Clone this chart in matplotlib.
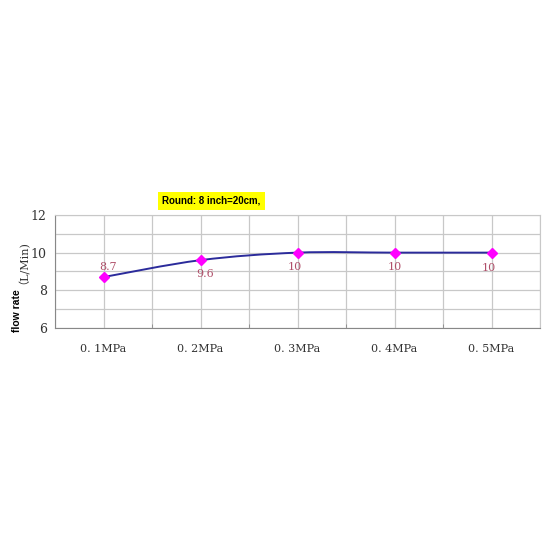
import matplotlib
matplotlib.use("Agg")
import matplotlib.pyplot as plt
from matplotlib.path import Path
from matplotlib.patches import PathPatch
import numpy as np

categories = ["0. 1MPa", "0. 2MPa", "0. 3MPa", "0. 4MPa", "0. 5MPa"]
flow = [8.7, 9.6, 10, 10, 10]
value_labels = ["8.7", "9.6", "10", "10", "10"]
label_offsets = [(3, 7), (3, -10), (-2, -10), (0, -10), (-2, -11)]
yticks = [6, 8, 10, 12]
title_text = "Round: 8 inch=20cm,"

fig = plt.figure(figsize=(5.5, 5.5), dpi=100)
ax = fig.add_axes([0.1, 0.404, 0.882, 0.205])

x = np.arange(len(categories))
y = np.array(flow, dtype=float)

# smoothed line (Bezier through points, like spreadsheet smoothing)
verts = [(x[0], y[0])]
codes = [Path.MOVETO]
n = len(x)
t = 1 / 6
for i in range(n - 1):
    p0 = (x[max(i - 1, 0)], y[max(i - 1, 0)])
    p1 = (x[i], y[i])
    p2 = (x[i + 1], y[i + 1])
    p3 = (x[min(i + 2, n - 1)], y[min(i + 2, n - 1)])
    c1 = (p1[0] + (p2[0] - p0[0]) * t, p1[1] + (p2[1] - p0[1]) * t)
    c2 = (p2[0] - (p3[0] - p1[0]) * t, p2[1] - (p3[1] - p1[1]) * t)
    verts += [c1, c2, p2]
    codes += [Path.CURVE4] * 3
ax.add_patch(PathPatch(Path(verts, codes), fill=False, edgecolor="#2b2b9b", lw=1.4, zorder=3))
ax.plot(x, y, linestyle="none", marker="D", color="#ff00ff", markersize=5, zorder=4)

for xi, yi, lab, off in zip(x, y, value_labels, label_offsets):
    ax.annotate(lab, (xi, yi), xytext=off, textcoords="offset points",
                ha="center", va="center", fontsize=8, color="#b0506a",
                family="DejaVu Serif")

ax.set_xlim(-0.5, len(categories) - 0.5)
ax.set_ylim(6, 12)
ax.set_yticks(yticks)
ax.set_yticks(np.arange(6, 13, 1), minor=True)
ax.set_xticks(x)
ax.set_xticks(np.arange(-0.5, len(categories), 1), minor=True)
ax.set_xticklabels(categories, family="DejaVu Serif", fontsize=8, color="#333333")
ax.set_yticklabels([str(v) for v in yticks], family="DejaVu Serif", fontsize=9, color="#333333")
ax.grid(True, which="both", color="#c8c8c8", lw=0.9)
ax.set_axisbelow(True)
ax.tick_params(axis="x", which="major", length=0, pad=12)
ax.tick_params(axis="x", which="minor", length=3, color="#888888", direction="in")
ax.tick_params(axis="y", which="both", length=0, pad=6)
for s in ["top", "right"]:
    ax.spines[s].set_color("#c8c8c8")
for s in ["left", "bottom"]:
    ax.spines[s].set_color("#888888")

fig.text(0.031, 0.397, "flow rate", rotation=90, ha="center", va="bottom",
         fontsize=7.5, fontweight="bold", family="Liberation Sans")
fig.text(0.033, 0.484, "（L/Min)", rotation=90, ha="center", va="bottom",
         fontsize=8, family=["DejaVu Serif", "Noto Sans CJK SC"], color="#333333")

fig.text(0.295, 0.635, title_text, fontsize=7, fontweight="bold", ha="left", va="center",
         family="Liberation Sans",
         bbox=dict(facecolor="#ffff00", edgecolor="none", pad=3))

fig.savefig("out.png", dpi=100, facecolor="white")
